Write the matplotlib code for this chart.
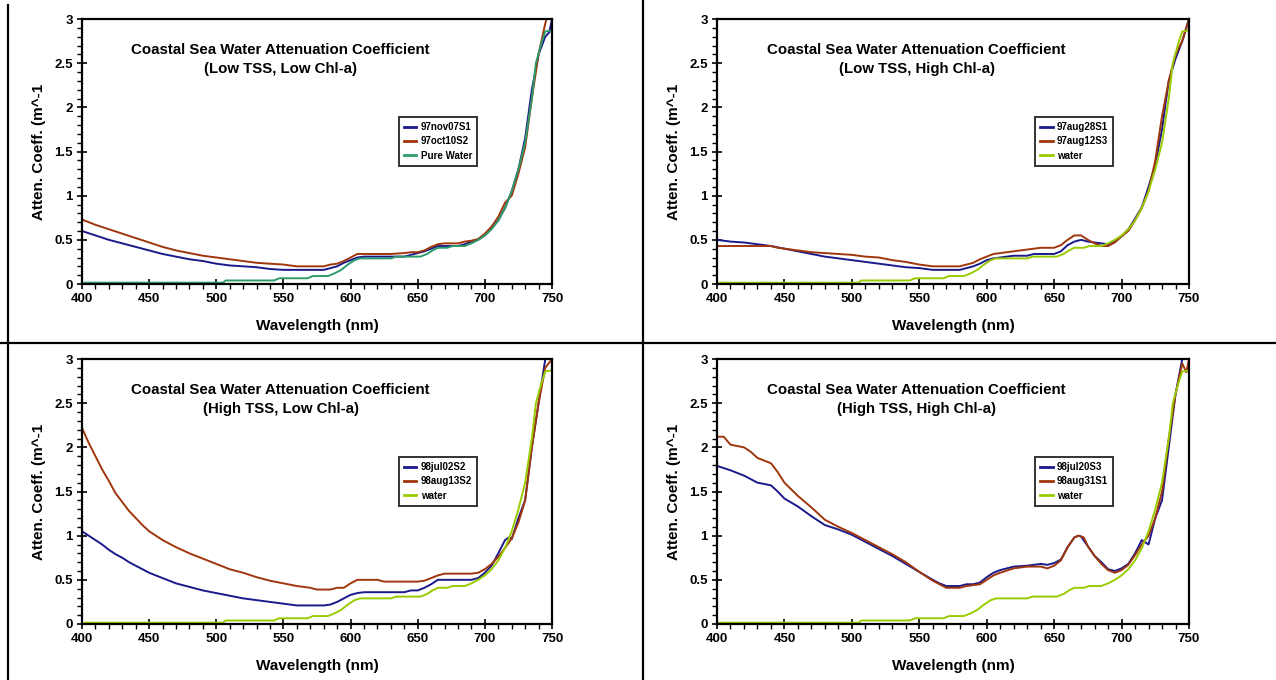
import matplotlib
matplotlib.use("Agg")
import matplotlib.pyplot as plt
from matplotlib.lines import Line2D
from matplotlib.ticker import MultipleLocator, FuncFormatter

plt.rcParams['font.family'] = ['Liberation Sans', 'DejaVu Sans']

# ---- data ----
water_wl = [400, 402, 505, 507, 543, 547, 568, 572, 583, 588, 593, 598, 603, 607, 630, 634, 652, 657,
            661, 665, 672, 676, 685, 690, 695, 700, 705, 710, 715, 720, 725, 730, 735, 738, 742, 745, 750]
water_val = [0.0, 0.015, 0.015, 0.04, 0.04, 0.065, 0.065, 0.09, 0.09, 0.12, 0.16, 0.22, 0.27, 0.29, 0.29,
             0.31, 0.31, 0.34, 0.38, 0.41, 0.41, 0.43, 0.43, 0.46, 0.5, 0.55, 0.62, 0.72, 0.86, 1.05, 1.3,
             1.6, 2.1, 2.5, 2.72, 2.86, 2.87]

# Panel 1: Low TSS, Low Chl-a
p1_blue_wl = [400, 410, 420, 430, 440, 450, 460, 470, 480, 490, 500, 510, 520, 530, 540, 550, 560, 570, 580,
              585, 590, 595, 600, 605, 610, 620, 630, 640, 645, 650, 655, 660, 665, 670, 680, 685, 690, 695,
              700, 705, 710, 715, 720, 725, 730, 735, 740, 745, 748, 750]
p1_blue = [0.6, 0.55, 0.5, 0.46, 0.42, 0.38, 0.34, 0.31, 0.28, 0.26, 0.23, 0.21, 0.2, 0.19, 0.17, 0.16, 0.16,
           0.16, 0.16, 0.18, 0.2, 0.24, 0.27, 0.3, 0.31, 0.31, 0.31, 0.31, 0.33, 0.35, 0.37, 0.4, 0.43, 0.43,
           0.43, 0.45, 0.48, 0.5, 0.55, 0.63, 0.72, 0.86, 1.05, 1.3, 1.65, 2.2, 2.6, 2.8, 2.85, 3.0]
p1_brown_wl = [400, 410, 420, 430, 440, 450, 460, 470, 480, 490, 500, 510, 520, 530, 540, 550, 560, 570, 580,
               585, 590, 595, 600, 605, 610, 620, 630, 640, 645, 650, 655, 660, 665, 670, 680, 685, 690, 695,
               700, 705, 710, 715, 720, 725, 730, 735, 740, 745, 747]
p1_brown = [0.73, 0.67, 0.62, 0.57, 0.52, 0.47, 0.42, 0.38, 0.35, 0.32, 0.3, 0.28, 0.26, 0.24, 0.23, 0.22, 0.2,
            0.2, 0.2, 0.22, 0.23, 0.26, 0.3, 0.34, 0.34, 0.34, 0.34, 0.35, 0.36, 0.36, 0.38, 0.42, 0.45, 0.46,
            0.46, 0.48, 0.49, 0.51, 0.57, 0.65, 0.76, 0.92, 1.0, 1.25, 1.55, 2.1, 2.6, 2.95, 3.05]

# Panel 2: Low TSS, High Chl-a
p2_blue_wl = [400, 410, 420, 430, 440, 450, 460, 470, 480, 490, 500, 510, 520, 530, 540, 550, 560, 570, 580,
              585, 590, 595, 600, 605, 610, 620, 630, 635, 650, 655, 660, 665, 670, 675, 680, 685, 690, 695,
              700, 705, 710, 715, 720, 725, 730, 735, 740, 745, 750]
p2_blue = [0.5, 0.48, 0.47, 0.45, 0.43, 0.4, 0.37, 0.34, 0.31, 0.29, 0.27, 0.25, 0.23, 0.21, 0.19, 0.18, 0.16,
           0.16, 0.16, 0.18, 0.2, 0.23, 0.27, 0.29, 0.3, 0.32, 0.32, 0.34, 0.34, 0.37, 0.44, 0.48, 0.5, 0.48,
           0.47, 0.46, 0.45, 0.49, 0.54, 0.62, 0.74, 0.87, 1.1, 1.35, 1.75, 2.3, 2.55, 2.75, 3.0]
p2_brown_wl = [400, 440, 445, 450, 460, 470, 480, 490, 500, 510, 520, 530, 540, 550, 560, 570, 580, 585, 590,
               595, 600, 605, 610, 620, 630, 640, 650, 655, 660, 665, 670, 675, 680, 685, 690, 695, 700, 705,
               710, 715, 720, 725, 730, 735, 740, 745, 750]
p2_brown = [0.43, 0.43, 0.41, 0.4, 0.38, 0.36, 0.35, 0.34, 0.33, 0.31, 0.3, 0.27, 0.25, 0.22, 0.2, 0.2, 0.2,
            0.22, 0.24, 0.28, 0.31, 0.34, 0.35, 0.37, 0.39, 0.41, 0.41, 0.44, 0.5, 0.55, 0.55, 0.5, 0.46,
            0.43, 0.43, 0.47, 0.54, 0.6, 0.72, 0.86, 1.05, 1.4, 1.9, 2.3, 2.6, 2.75, 3.0]

# Panel 3: High TSS, Low Chl-a
p3_blue_wl = [400, 405, 410, 415, 420, 425, 430, 435, 440, 450, 460, 470, 480, 490, 500, 510, 520, 530, 540,
              550, 560, 570, 580, 585, 590, 595, 600, 605, 610, 640, 645, 650, 655, 660, 665, 690, 695, 700,
              705, 710, 715, 718, 720, 725, 730, 735, 740, 745]
p3_blue = [1.05, 1.0, 0.95, 0.9, 0.84, 0.79, 0.75, 0.7, 0.66, 0.58, 0.52, 0.46, 0.42, 0.38, 0.35, 0.32, 0.29,
           0.27, 0.25, 0.23, 0.21, 0.21, 0.21, 0.22, 0.25, 0.29, 0.33, 0.35, 0.36, 0.36, 0.38, 0.38, 0.41,
           0.45, 0.5, 0.5, 0.52, 0.58, 0.66, 0.8, 0.95, 0.98, 0.96, 1.2, 1.4, 2.0, 2.5, 3.0]
p3_brown_wl = [400, 405, 410, 415, 420, 425, 430, 435, 440, 445, 450, 460, 470, 480, 490, 500, 510, 520, 530,
               540, 550, 560, 570, 575, 585, 590, 595, 600, 605, 620, 625, 650, 655, 660, 665, 670, 690, 695,
               700, 705, 710, 715, 720, 725, 730, 735, 740, 745, 750]
p3_brown = [2.22, 2.05, 1.9, 1.75, 1.62, 1.48, 1.38, 1.28, 1.2, 1.12, 1.05, 0.95, 0.87, 0.8, 0.74, 0.68, 0.62,
            0.58, 0.53, 0.49, 0.46, 0.43, 0.41, 0.39, 0.39, 0.41, 0.41, 0.46, 0.5, 0.5, 0.48, 0.48, 0.49,
            0.52, 0.55, 0.57, 0.57, 0.58, 0.62, 0.68, 0.76, 0.86, 0.97, 1.15, 1.4, 2.0, 2.5, 2.9, 3.0]

# Panel 4: High TSS, High Chl-a
p4_blue_wl = [400, 410, 420, 430, 440, 445, 450, 460, 470, 480, 490, 500, 510, 520, 530, 540, 550, 560, 565,
              570, 580, 585, 590, 595, 600, 605, 610, 615, 620, 630, 640, 645, 650, 655, 660, 665, 668, 670,
              675, 680, 685, 690, 695, 700, 705, 710, 715, 720, 725, 730, 735, 740, 745]
p4_blue = [1.79, 1.74, 1.68, 1.6, 1.57, 1.5, 1.42, 1.33, 1.22, 1.12, 1.07, 1.01, 0.93, 0.85, 0.77, 0.68, 0.59,
           0.5, 0.46, 0.43, 0.43, 0.45, 0.45, 0.47, 0.53, 0.58, 0.61, 0.63, 0.65, 0.66, 0.68, 0.67, 0.69,
           0.73, 0.87, 0.98, 1.0, 0.99, 0.88, 0.77, 0.7, 0.62, 0.6, 0.63, 0.68, 0.8, 0.95, 0.9, 1.2, 1.4, 2.0,
           2.6, 3.0]
p4_brown_wl = [400, 405, 410, 420, 425, 430, 440, 445, 450, 460, 470, 480, 490, 500, 510, 520, 530, 540, 550,
               560, 565, 570, 580, 585, 590, 595, 600, 605, 610, 620, 630, 640, 645, 650, 655, 660, 665, 668,
               672, 675, 680, 685, 690, 695, 700, 705, 710, 715, 720, 725, 730, 735, 740, 745, 748, 750]
p4_brown = [2.12, 2.12, 2.03, 2.0, 1.95, 1.88, 1.82, 1.72, 1.6, 1.45, 1.32, 1.18, 1.1, 1.03, 0.95, 0.87, 0.79,
            0.7, 0.59, 0.49, 0.45, 0.41, 0.41, 0.43, 0.44, 0.45, 0.5, 0.55, 0.58, 0.63, 0.65, 0.65, 0.63, 0.66,
            0.72, 0.87, 0.98, 1.0, 0.98, 0.88, 0.77, 0.68, 0.61, 0.58, 0.61, 0.67, 0.78, 0.9, 1.0, 1.2, 1.5,
            2.1, 2.6, 2.95, 2.85, 3.0]

subtitles = ["(Low TSS, Low Chl-a)", "(Low TSS, High Chl-a)",
             "(High TSS, Low Chl-a)", "(High TSS, High Chl-a)"]
labels_blue = ["97nov07S1", "97aug28S1", "98jul02S2", "98jul20S3"]
labels_brown = ["97oct10S2", "97aug12S3", "98aug13S2", "98aug31S1"]
labels_water = ["Pure Water", "water", "water", "water"]

title_main = "Coastal Sea Water Attenuation Coefficient"
xlabel = "Wavelength (nm)"
ylabel = "Atten. Coeff. (m^-1"

BLUE = "#1a1a8c"
BROWN = "#a0360c"
TEAL = "#2e9a6a"
LIME = "#99cc00"

W, H = 1276, 680
fig = plt.figure(figsize=(W / 100, H / 100), dpi=100)

panels = [
    (p1_blue_wl, p1_blue, p1_brown_wl, p1_brown, TEAL),
    (p2_blue_wl, p2_blue, p2_brown_wl, p2_brown, LIME),
    (p3_blue_wl, p3_blue, p3_brown_wl, p3_brown, LIME),
    (p4_blue_wl, p4_blue, p4_brown_wl, p4_brown, LIME),
]
# axes boxes in pixels: (left, top, right, bottom)
boxes = [(82, 19, 552, 284), (717, 19, 1189, 284), (82, 359, 552, 624), (717, 359, 1189, 624)]

for i, (bwl, bv, rwl, rv, wcol) in enumerate(panels):
    l, t, r, b = boxes[i]
    ax = fig.add_axes([l / W, 1 - b / H, (r - l) / W, (b - t) / H])
    ax.plot(bwl, bv, color=BLUE, lw=1.4, label=labels_blue[i])
    ax.plot(rwl, rv, color=BROWN, lw=1.4, label=labels_brown[i])
    ax.plot(water_wl, water_val, color=wcol, lw=1.4, label=labels_water[i])
    ax.set_xlim(400, 750)
    ax.set_ylim(0, 3)
    ax.xaxis.set_major_locator(MultipleLocator(50))
    ax.xaxis.set_minor_locator(MultipleLocator(10))
    ax.yaxis.set_major_locator(MultipleLocator(0.5))
    ax.yaxis.set_minor_locator(MultipleLocator(0.1))
    ax.yaxis.set_major_formatter(FuncFormatter(lambda v, p: f"{v:g}"))
    ax.tick_params(which='major', direction='inout', length=7, width=1.2, labelsize=9.5, pad=3)
    ax.tick_params(which='minor', direction='out', length=3.5, width=1.0)
    for lab in ax.get_xticklabels() + ax.get_yticklabels():
        lab.set_fontweight('bold')
    for sp in ax.spines.values():
        sp.set_linewidth(1.6)
        sp.set_color('black')
    ax.set_xlabel(xlabel, fontsize=11, fontweight='bold', labelpad=10)
    ax.set_ylabel(ylabel, fontsize=11, fontweight='bold', labelpad=6)
    ax.text(548, 2.65, title_main, ha='center', va='center', fontsize=10.8, fontweight='bold')
    ax.text(548, 2.43, subtitles[i], ha='center', va='center', fontsize=10.8, fontweight='bold')
    leg = ax.legend(loc='upper left', bbox_to_anchor=(0.674, 0.63), frameon=True, fancybox=False,
                    prop={'size': 7, 'weight': 'bold'}, handlelength=1.3, handletextpad=0.45,
                    labelspacing=0.45, borderpad=0.5, borderaxespad=0)
    leg.get_frame().set_edgecolor('black')
    leg.get_frame().set_linewidth(1.4)
    for ln in leg.get_lines():
        ln.set_linewidth(2)

# panel divider lines
fig.add_artist(Line2D([8 / W, 8 / W], [0, 1 - 5 / H], color='black', lw=1.6))
fig.add_artist(Line2D([643 / W, 643 / W], [0, 1], color='black', lw=1.6))
fig.add_artist(Line2D([0, 1], [1 - 343 / H, 1 - 343 / H], color='black', lw=1.6))

fig.savefig("out.png", dpi=100)
